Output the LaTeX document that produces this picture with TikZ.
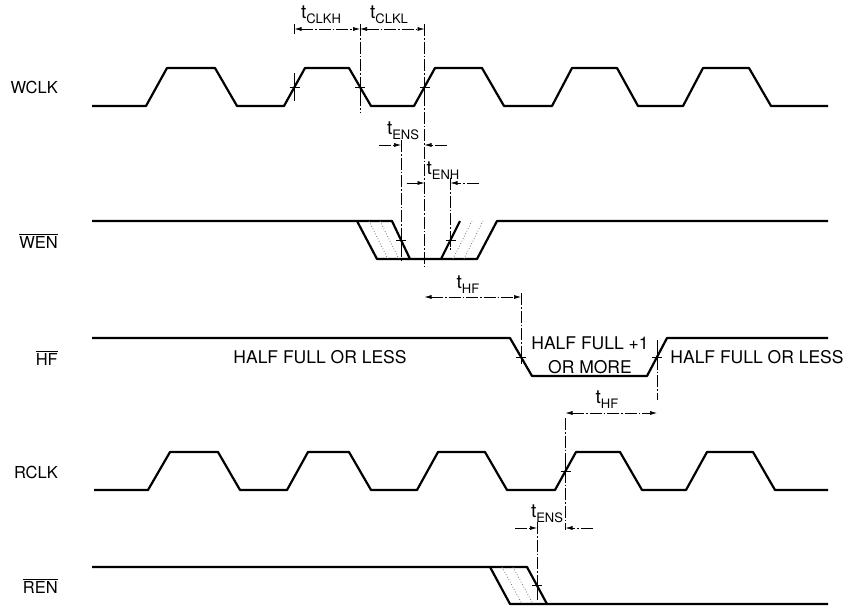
\documentclass[tikz,border=0pt]{standalone}
\usepackage{fontspec}
\setmainfont{TeX Gyre Heros}
\usetikzlibrary{arrows.meta}

\newcommand{\sigfont}{\fontsize{16.5}{24}\selectfont}
\newcommand{\statefont}{\fontsize{17.5}{24}\selectfont}
\newcommand{\tsym}[1]{{\fontsize{19}{19}\selectfont t}\raisebox{-5pt}{\fontsize{13}{13}\selectfont #1}}
\newcommand{\inv}[1]{$\overline{\hbox{#1}}$}

\begin{document}
\begin{tikzpicture}[
  x=1pt, y=-1pt,
  >={Latex[length=7pt,width=4pt]},
  font=\sigfont,
  wave/.style={line width=2.2pt, line join=round},
  ext/.style={line width=.6pt, dash pattern=on 12pt off 2pt on 1.5pt off 2pt},
  dim/.style={ext, <->},
  inarr/.style={ext, ->},
  tickm/.style={line width=.6pt},
  shade/.style={draw=black!55, line width=.8pt, dotted},
  lbl/.style={anchor=east, inner sep=0pt},
  state/.style={font=\statefont, align=center}
]
\useasboundingbox (0,0) rectangle (845,606);

% signal names
\node[lbl] (wclk) at (58,87) {WCLK};
\node[lbl] (wen) at (58,241) {\inv{WEN}};
\node[lbl] (hf) at (58,358) {\inv{HF}};
\node[lbl] (rclk) at (58,472) {RCLK};
\node[lbl] (ren) at (58,586) {\inv{REN}};

% waveforms
\draw[wave] (92,106) -- (146,106) -- (167,68) -- (215,68) -- (237,106) -- (284,106) -- (305,68) -- (349,68) -- (371,106) -- (414,106) -- (435,68) -- (482,68) -- (504,106) -- (552,106) -- (572,68) -- (617,68) -- (638,106) -- (683,106) -- (703,68) -- (749,68) -- (771,106) -- (828,106);

\draw[wave] (92,221) -- (392,221) -- (410,259);
\draw[wave] (357,221) -- (377,259) -- (477,259) -- (497,221) -- (828,221);
\draw[wave] (441,259) -- (460,221);

\draw[wave] (92,338) -- (510,338) -- (532,376) -- (647,376) -- (667,338) -- (828,338);

\draw[wave] (94,490) -- (148,490) -- (170,452) -- (218,452) -- (240,490) -- (287,490) -- (308,452) -- (349,452) -- (371,490) -- (417,490) -- (438,452) -- (485,452) -- (507,490) -- (555,490) -- (576,452) -- (620,452) -- (642,490) -- (686,490) -- (707,452) -- (753,452) -- (775,490) -- (828,490);

\draw[wave] (92,567) -- (527,567) -- (547,604);
\draw[wave] (490,567) -- (510,604) -- (828,604);

% don't-care regions
\draw[shade] (369,221) -- (388,259) (380,221) -- (399,259);
\draw[shade] (453,259) -- (472,221) (464,259) -- (483,221);
\draw[shade] (502,567) -- (522,604) (513,567) -- (533,604);

% crossing points and dimension levels
\coordinate (wr2) at (294.5,87);
\coordinate (wf2) at (360,87);
\coordinate (wr3) at (424.5,87);
\coordinate (wenf) at (401,240);
\coordinate (wenr) at (450.5,240);
\coordinate (hff) at (521,357);
\coordinate (hfr) at (657,357);
\coordinate (rr) at (565.5,471);
\coordinate (renf) at (537,585);

\coordinate (clkdim) at (0,29);
\coordinate (ensdim) at (0,145);
\coordinate (enhdim) at (0,183);
\coordinate (hfdim) at (0,297);
\coordinate (hfdimb) at (0,413);
\coordinate (rensdim) at (0,528);

\foreach \c in {wr2,wf2,wr3,wenf,wenr,hff,hfr,rr,renf}
  \draw[tickm] ([xshift=-5pt]\c) -- ([xshift=5pt]\c) ([yshift=-7pt]\c) -- ([yshift=7pt]\c);

% extension lines
\draw[ext] (wr2) ++(0,-63) -- ++(0,10);
\draw[tickm] (wr2) ++(0,-14) -- ++(0,28);
\draw[ext] (wf2) ++(0,-63) -- ++(0,88);
\draw[ext] (wr3) ++(0,-63) -- ++(0,244);
\draw[ext] (wenf) ++(0,-100) -- ++(0,122);
\draw[ext] (wenr) ++(0,-62) -- ++(0,72);
\draw[ext] (hff) ++(0,-64) -- ++(0,71);
\draw[ext] (hfr) ++(0,-17) -- ++(0,60);
\draw[ext] (rr) ++(0,-53) -- ++(0,112);
\draw[ext] (renf) ++(0,-63) -- ++(0,78);

% timing parameters
\draw[dim] (wr2 |- clkdim) -- (wf2 |- clkdim);
\node (tclkh) at (321,15) {\tsym{CLKH}};
\draw[dim] (wf2 |- clkdim) -- (wr3 |- clkdim);
\node (tclkl) at (389,15) {\tsym{CLKL}};

\draw[inarr] (wenf |- ensdim) ++(-22,0) -- (wenf |- ensdim);
\draw[inarr] (wr3 |- ensdim) ++(22,0) -- (wr3 |- ensdim);
\node (tens) at (403,131) {\tsym{ENS}};

\draw[inarr] (wr3 |- enhdim) ++(-18,0) -- (wr3 |- enhdim);
\draw[inarr] (wenr |- enhdim) ++(28,0) -- (wenr |- enhdim);
\node (tenh) at (443,171) {\tsym{ENH}};

\draw[dim] (wr3 |- hfdim) -- (hff |- hfdim);
\node (thfa) at (468,285) {\tsym{HF}};
\draw[dim] (rr |- hfdimb) -- (hfr |- hfdimb);
\node (thfb) at (607,400) {\tsym{HF}};

\draw[inarr] (renf |- rensdim) ++(-22,0) -- (renf |- rensdim);
\draw[inarr] (rr |- rensdim) ++(27,0) -- (rr |- rensdim);
\node (trens) at (547,514) {\tsym{ENS}};

% flag states
\node[state] (hfless) at (320,357) {HALF FULL OR LESS};
\node[state] (hfmore) at (590,355) {HALF FULL +1\\OR MORE};
\node[state] (hflessb) at (757,357) {HALF FULL OR LESS};
\end{tikzpicture}
\end{document}
